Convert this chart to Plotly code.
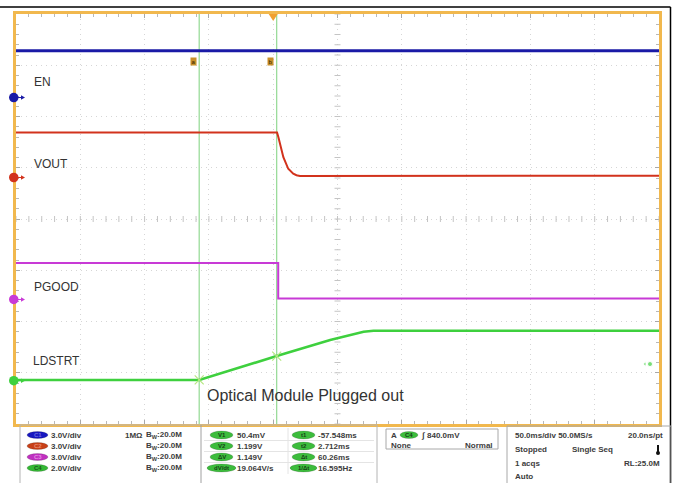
import plotly.graph_objects as go

# ---------------- data ----------------
# time in ms (trigger at 0), voltages in V
en_t = [-200, 300]
en_v = [2.74, 2.74]

vout_t = [-200, 3.0, 4.1, 5.3, 7.9, 11.7, 15.6, 18.1, 20.8, 300]
vout_v = [2.63, 2.63, 2.34, 1.99, 1.19, 0.51, 0.22, 0.13, 0.09, 0.10]

pgood_t = [-200, 3.9, 3.9, 300]
pgood_v = [2.14, 2.14, 0.06, 0.06]

ldstrt_t = [-200, -57.5, 2.7, 44.3, 70.3, 78.0, 300]
ldstrt_v = [0.03, 0.03, 0.96, 1.59, 1.91, 1.95, 1.95]

channel_names = ["EN", "VOUT", "PGOOD", "LDSTRT"]
channel_scale = [3.0, 3.0, 3.0, 2.0]          # V/div
channel_offset_div = [6.37, 4.81, 2.43, 0.845]  # ground level, divisions from bottom

cursor_t = [-57.548, 2.712]
cursor_v = [0.03, 0.96]          # LDSTRT level at the cursors
trigger_marker_v = 0.65          # right-hand level marker (LDSTRT)

scale_labels = ["3.0V/div", "3.0V/div", "3.0V/div", "2.0V/div"]
pill_labels = ["C1", "C2", "C3", "C4"]
cursor_left_labels = ["V1", "V2", "ΔV", "dV/dt"]
cursor_left_values = ["50.4mV", "1.199V", "1.149V", "19.064V/s"]
cursor_right_labels = ["t1", "t2", "Δt", "1/Δt"]
cursor_right_values = ["-57.548ms", "2.712ms", "60.26ms", "16.595Hz"]

# ---------------- geometry ----------------
W, H = 673, 483
L, R, T, B = 16, 659, 14, 424
T_MIN, T_MAX = -200.0, 300.0
NDIV_Y = 8
XPX = (R - L) / (T_MAX - T_MIN)
YPX = (B - T) / NDIV_Y


def PX(x):
    return (x - L) / (R - L)


def PY(y):
    return (B - y) / (B - T)


def T_OF_PX(x):
    return T_MIN + (x - L) / XPX


colors = ['#1a1aa6', '#d2321c', '#c83ad6', '#3ed03e']
widths = [3.2, 2.0, 2.0, 2.6]
ORANGE = '#f1b84e'
TXT = '#3c3c3c'
FONT = 'Liberation Sans'

fig = go.Figure()

# center-line ticks
seg_x, seg_y = [], []
tx = 3 / XPX
ty = 3 / YPX
xc = (T_MIN + T_MAX) / 2
for k in range(NDIV_Y * 5 + 1):
    yv = k * 0.2
    seg_x += [xc - tx, xc + tx, None]
    seg_y += [yv, yv, None]
for k in range(51):
    xv = T_MIN + 10 * k
    seg_x += [xv, xv, None]
    seg_y += [NDIV_Y / 2 - ty, NDIV_Y / 2 + ty, None]
fig.add_trace(go.Scatter(x=seg_x, y=seg_y, mode='lines',
                         line=dict(color='#c4c4c4', width=1),
                         hoverinfo='skip', showlegend=False))

# cursor lines
for ct in cursor_t:
    fig.add_trace(go.Scatter(x=[ct, ct], y=[0, NDIV_Y], mode='lines',
                             line=dict(color='#93d993', width=1.2),
                             hoverinfo='skip', showlegend=False))

# channel traces
t_lists = [en_t, vout_t, pgood_t, ldstrt_t]
v_lists = [en_v, vout_v, pgood_v, ldstrt_v]
for i, (ts, vs) in enumerate(zip(t_lists, v_lists)):
    ys = [channel_offset_div[i] + v / channel_scale[i] for v in vs]
    fig.add_trace(go.Scatter(x=ts, y=ys, mode='lines', name=channel_names[i],
                             line=dict(color=colors[i], width=widths[i]),
                             hoverinfo='skip', showlegend=False))

# cursor crossing markers on LDSTRT
fig.add_trace(go.Scatter(
    x=cursor_t, y=[channel_offset_div[3] + v / channel_scale[3] for v in cursor_v],
    mode='markers', marker=dict(symbol='x-thin-open', size=9,
                                line=dict(color='#6fcf6f', width=1.2)),
    hoverinfo='skip', showlegend=False))

# right-hand trigger level marker
ty_trig = channel_offset_div[3] + trigger_marker_v / channel_scale[3]
fig.add_trace(go.Scatter(x=[T_OF_PX(645), T_OF_PX(650)], y=[ty_trig, ty_trig],
                         mode='markers',
                         marker=dict(symbol=['triangle-left', 'circle'], size=[4, 5],
                                     color='#3ed03e'),
                         cliponaxis=False, hoverinfo='skip', showlegend=False))

shapes = []
annotations = []

# channel ground markers (left): circle + small arrow, placed at channel offsets
for off, c in zip(channel_offset_div, colors):
    yp = B - off * YPX
    shapes.append(dict(type='line', xref='paper', yref='paper',
                       x0=PX(17), x1=PX(22), y0=PY(yp), y1=PY(yp),
                       line=dict(color=c, width=1)))
    shapes.append(dict(type='path', xref='paper', yref='paper',
                       path=f"M {PX(21)} {PY(yp-2.2)} L {PX(25)} {PY(yp)} L {PX(21)} {PY(yp+2.2)} Z",
                       fillcolor=c, line=dict(width=0)))
    shapes.append(dict(type='circle', xref='paper', yref='paper',
                       x0=PX(9), x1=PX(18.5), y0=PY(yp - 4.8), y1=PY(yp + 4.8),
                       fillcolor=c, line=dict(width=0)))

# trigger position triangle at top
x0 = L + (0 - T_MIN) * XPX
shapes.append(dict(type='path', xref='paper', yref='paper',
                   path=f"M {PX(x0-4.5)} {PY(14)} L {PX(x0+4.5)} {PY(14)} L {PX(x0)} {PY(21)} Z",
                   fillcolor='#f0a030', line=dict(width=0)))

# cursor a / b tags
for lab, ct in zip(['a', 'b'], cursor_t):
    annotations.append(dict(x=ct, y=PY(56.7), xref='x', yref='paper', xshift=-6,
                            text=lab, showarrow=False,
                            font=dict(size=6, color='#302000', family=FONT),
                            bgcolor='#c8902a', borderpad=0.5))

# channel labels
label_pos = [(32, 82), (32, 164), (32, 287), (31, 361)]
for name, (lx, ly) in zip(channel_names, label_pos):
    annotations.append(dict(x=PX(lx), y=PY(ly), xref='paper', yref='paper',
                            xanchor='left', yanchor='middle', text=name, showarrow=False,
                            font=dict(size=12, color='#333333', family=FONT)))
annotations.append(dict(x=PX(205), y=PY(395), xref='paper', yref='paper',
                        xanchor='left', yanchor='middle',
                        text='Optical Module Plugged out', showarrow=False,
                        font=dict(size=16, color='#333333', family=FONT)))

# outer black frame lines
shapes.append(dict(type='line', xref='paper', yref='paper', x0=PX(0), x1=PX(670.5),
                   y0=PY(7), y1=PY(7), line=dict(color='black', width=1.5)))
shapes.append(dict(type='line', xref='paper', yref='paper', x0=PX(670.5), x1=PX(670.5),
                   y0=PY(7), y1=PY(490), line=dict(color='black', width=1.5)))

# ---------- bottom status panel ----------
BOX = '#b4b4b4'


def rect(x0, y0, x1, y1, color=BOX, fill='rgba(0,0,0,0)', w=1):
    shapes.append(dict(type='rect', xref='paper', yref='paper', x0=PX(x0), x1=PX(x1),
                       y0=PY(y0), y1=PY(y1), line=dict(color=color, width=w),
                       fillcolor=fill))


def line(x0, y0, x1, y1, color=BOX, w=1):
    shapes.append(dict(type='line', xref='paper', yref='paper', x0=PX(x0), x1=PX(x1),
                       y0=PY(y0), y1=PY(y1), line=dict(color=color, width=w)))


def pill(cx, cy, w, h, color):
    shapes.append(dict(type='circle', xref='paper', yref='paper',
                       x0=PX(cx - w / 2), x1=PX(cx + w / 2),
                       y0=PY(cy - h / 2), y1=PY(cy + h / 2),
                       fillcolor=color, line=dict(color='rgba(0,0,0,0.25)', width=0.6)))


def text(x, y, s, anchor='left', size=8, color=TXT, bold=True):
    annotations.append(dict(x=PX(x), y=PY(y), xref='paper', yref='paper',
                            xanchor=anchor, yanchor='middle',
                            text=f"<b>{s}</b>" if bold else s, showarrow=False,
                            borderpad=0,
                            font=dict(size=size, color=color, family=FONT)))


rows_y = [435, 446, 457, 468]

# channel + cursor box
rect(20, 425, 377, 492)
line(201, 425, 201, 492, color='#a0a0a0')
for yy in [440.5, 451.5, 462.5]:
    line(204, yy, 374, yy, color='#e4e4e4')
line(288, 428, 288, 474, color='#e4e4e4')

pill_colors = ['#1818c0', '#c84018', '#c030c0', '#34b834']
pill_text_colors = ['#6a6ae0', '#e88a70', '#e48ae4', '#1a5a1a']
for i, yy in enumerate(rows_y):
    pill(37.5, yy, 21, 7, pill_colors[i])
    text(37.5, yy, pill_labels[i], anchor='center', size=6, color=pill_text_colors[i])
    text(50, yy, scale_labels[i])
    text(145, yy, "B<sub>W</sub>:20.0M")
text(124, rows_y[0], "1MΩ")

for i, yy in enumerate(rows_y):
    w1 = 29 if i == 3 else 23
    w2 = 27 if i == 3 else 23
    pill(221.5, yy, w1, 8, '#3cbc3c')
    text(221.5, yy, cursor_left_labels[i], anchor='center', size=6, color='#164016')
    text(236, yy, cursor_left_values[i])
    pill(303.5, yy, w2, 8, '#3cbc3c')
    text(303.5, yy, cursor_right_labels[i], anchor='center', size=6, color='#164016')
    text(317, yy, cursor_right_values[i])

# trigger box
rect(386, 429, 498, 449, color='#a8a8a8')
text(390, 435, "A")
pill(409, 435, 18, 7, '#3cbc3c')
text(409, 435, "C4", anchor='center', size=6, color='#164016')
text(420, 435, "∫", size=8)
text(426, 435, "840.0mV")
text(390, 445, "None")
text(494, 445, "Normal", anchor='right')

# timebase box
rect(507, 426, 671, 492, color='#a8a8a8')
text(514, 435, "50.0ms/div 50.0MS/s")
text(664, 435, "20.0ns/pt", anchor='right')
text(514, 449, "Stopped")
text(571, 449, "Single Seq")
text(514, 463, "1 acqs")
text(661, 463, "RL:25.0M", anchor='right')
text(514, 476, "Auto")
line(658, 445, 658, 452, color='#111', w=2)
shapes.append(dict(type='circle', xref='paper', yref='paper',
                   x0=PX(656), x1=PX(660), y0=PY(451), y1=PY(455),
                   fillcolor='#111', line=dict(width=0)))

axis_common = dict(showline=True, linecolor=ORANGE, linewidth=2.5, mirror='ticks',
                   ticks='inside', ticklen=4, tickcolor='#a8a8a8', tickwidth=1,
                   showticklabels=False, zeroline=False, showgrid=True,
                   gridcolor='#d6d6d6', griddash='1px,4px', gridwidth=1,
                   layer='below traces', fixedrange=True)

fig.update_layout(
    width=W, height=H,
    margin=dict(l=L, r=W - R, t=T, b=H - B, pad=0),
    paper_bgcolor='white', plot_bgcolor='white',
    xaxis=dict(range=[T_MIN, T_MAX], dtick=50, tick0=0,
               minor=dict(dtick=10, ticks='inside', ticklen=3, tickcolor='#b8b8b8',
                          showgrid=False),
               **axis_common),
    yaxis=dict(range=[0, NDIV_Y], dtick=1, tick0=0,
               minor=dict(dtick=0.2, ticks='inside', ticklen=3, tickcolor='#b8b8b8',
                          showgrid=False),
               **axis_common),
    shapes=shapes,
    annotations=annotations,
    showlegend=False,
)

fig.write_html("out.html", config={'displayModeBar': False},
               post_script="document.body.style.margin='0';document.body.style.overflow='hidden';")
